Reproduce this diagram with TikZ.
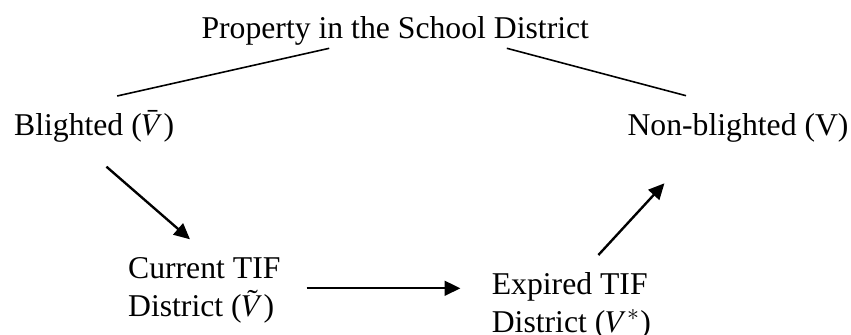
\documentclass[tikz,border=0pt]{standalone}
\usepackage{mathptmx}
\usepackage{fontspec}
\setmainfont{Liberation Serif}
\usetikzlibrary{arrows.meta,calc}
\tikzset{
  lbl/.style={inner sep=0pt, font=\fontsize{12}{14.4}\selectfont},
  link/.style={line width=0.6pt},
  arr/.style={line width=0.9pt, -{Triangle[length=6pt,width=5.6pt]}},
}
\begin{document}
\begin{tikzpicture}[x=0.3785pt, y=-0.3785pt]
\useasboundingbox (0,0) rectangle (851,335);
\node[lbl, anchor=base west] at (201,39) (title) {Property in the School District};
\node[lbl, anchor=base west] at (13.6,136) (blighted) {Blighted ($\bar{V}$)}; \node[lbl, anchor=base west] at (627,136) (nonblighted) {Non-blighted (V)};
%tif stages
\node[lbl, align=left, anchor=north west] at (127.6,256.8) (current) {Current TIF\\District ($\tilde{V}$)};
\node[lbl, align=left, anchor=north west] at (491.3,271.8) (expired) {Expired TIF\\District ($V^{*}$)};
%split
\draw[link] ($(blighted.base)+(23,-40)$) -- ($(title.base)+(-66,9.3)$);
\draw[link] ($(title.base)+(111.6,9.3)$) -- ($(nonblighted.base)+(-52,-40.3)$);
%flow
\draw[arr] ($(blighted.base)+(12.3,30.7)$) -- ($(current.north)+(-14.3,-17.5)$);
\draw[arr] ($(current.north east)+(25.7,31.5)$) -- ($(expired.north west)+(-30.9,16.5)$);
\draw[arr] ($(expired.north)+(27,-16.8)$) -- ($(nonblighted.base)+(-73.6,47.3)$);
\end{tikzpicture}
\end{document}
